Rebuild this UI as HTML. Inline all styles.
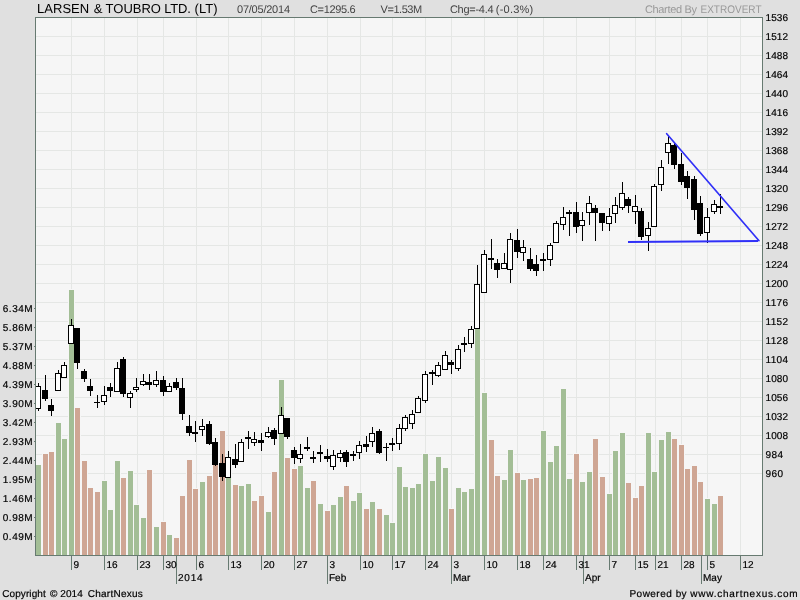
<!DOCTYPE html>
<html><head><meta charset="utf-8"><title>LARSEN &amp; TOUBRO LTD. (LT)</title>
<style>html,body{margin:0;padding:0;background:#e0e0e0;}body{width:800px;height:600px;overflow:hidden;}svg{display:block;will-change:transform;}text{font-family:"Liberation Sans",sans-serif;text-rendering:geometricPrecision;}</style>
</head><body>
<svg width="800" height="600" viewBox="0 0 800 600">
<rect x="0" y="0" width="800" height="600" fill="#e0e0e0"/>
<g shape-rendering="crispEdges">
<rect x="35" y="17" width="728" height="539" fill="#f6f6f6"/>
<rect x="36" y="36" width="726" height="1" fill="#e5e7e5"/>
<rect x="36" y="55" width="726" height="1" fill="#e5e7e5"/>
<rect x="36" y="74" width="726" height="1" fill="#e5e7e5"/>
<rect x="36" y="93" width="726" height="1" fill="#e5e7e5"/>
<rect x="36" y="112" width="726" height="1" fill="#e5e7e5"/>
<rect x="36" y="131" width="726" height="1" fill="#e5e7e5"/>
<rect x="36" y="150" width="726" height="1" fill="#e5e7e5"/>
<rect x="36" y="169" width="726" height="1" fill="#e5e7e5"/>
<rect x="36" y="188" width="726" height="1" fill="#e5e7e5"/>
<rect x="36" y="207" width="726" height="1" fill="#e5e7e5"/>
<rect x="36" y="226" width="726" height="1" fill="#e5e7e5"/>
<rect x="36" y="245" width="726" height="1" fill="#e5e7e5"/>
<rect x="36" y="264" width="726" height="1" fill="#e5e7e5"/>
<rect x="36" y="283" width="726" height="1" fill="#e5e7e5"/>
<rect x="36" y="302" width="726" height="1" fill="#e5e7e5"/>
<rect x="36" y="321" width="726" height="1" fill="#e5e7e5"/>
<rect x="36" y="340" width="726" height="1" fill="#e5e7e5"/>
<rect x="36" y="359" width="726" height="1" fill="#e5e7e5"/>
<rect x="36" y="378" width="726" height="1" fill="#e5e7e5"/>
<rect x="36" y="397" width="726" height="1" fill="#e5e7e5"/>
<rect x="36" y="416" width="726" height="1" fill="#e5e7e5"/>
<rect x="36" y="435" width="726" height="1" fill="#e5e7e5"/>
<rect x="36" y="454" width="726" height="1" fill="#e5e7e5"/>
<rect x="36" y="473" width="726" height="1" fill="#e5e7e5"/>
<rect x="71" y="18" width="1" height="537" fill="#e5e7e5"/>
<rect x="104" y="18" width="1" height="537" fill="#e5e7e5"/>
<rect x="137" y="18" width="1" height="537" fill="#e5e7e5"/>
<rect x="163" y="18" width="1" height="537" fill="#e5e7e5"/>
<rect x="196" y="18" width="1" height="537" fill="#e5e7e5"/>
<rect x="228" y="18" width="1" height="537" fill="#e5e7e5"/>
<rect x="261" y="18" width="1" height="537" fill="#e5e7e5"/>
<rect x="294" y="18" width="1" height="537" fill="#e5e7e5"/>
<rect x="327" y="18" width="1" height="537" fill="#e5e7e5"/>
<rect x="360" y="18" width="1" height="537" fill="#e5e7e5"/>
<rect x="392" y="18" width="1" height="537" fill="#e5e7e5"/>
<rect x="425" y="18" width="1" height="537" fill="#e5e7e5"/>
<rect x="451" y="18" width="1" height="537" fill="#e5e7e5"/>
<rect x="484" y="18" width="1" height="537" fill="#e5e7e5"/>
<rect x="517" y="18" width="1" height="537" fill="#e5e7e5"/>
<rect x="543" y="18" width="1" height="537" fill="#e5e7e5"/>
<rect x="576" y="18" width="1" height="537" fill="#e5e7e5"/>
<rect x="609" y="18" width="1" height="537" fill="#e5e7e5"/>
<rect x="635" y="18" width="1" height="537" fill="#e5e7e5"/>
<rect x="655" y="18" width="1" height="537" fill="#e5e7e5"/>
<rect x="681" y="18" width="1" height="537" fill="#e5e7e5"/>
<rect x="707" y="18" width="1" height="537" fill="#e5e7e5"/>
<rect x="740" y="18" width="1" height="537" fill="#e5e7e5"/>
<rect x="35" y="464" width="7" height="91" fill="#f6f6f6"/>
<rect x="36" y="465" width="5" height="90" fill="#a3be96"/>
<rect x="42" y="453" width="7" height="102" fill="#f6f6f6"/>
<rect x="43" y="454" width="5" height="101" fill="#cfa694"/>
<rect x="48" y="451" width="7" height="104" fill="#f6f6f6"/>
<rect x="49" y="452" width="5" height="103" fill="#cfa694"/>
<rect x="55" y="422" width="7" height="133" fill="#f6f6f6"/>
<rect x="56" y="423" width="5" height="132" fill="#a3be96"/>
<rect x="61" y="438" width="7" height="117" fill="#f6f6f6"/>
<rect x="62" y="439" width="5" height="116" fill="#a3be96"/>
<rect x="68" y="289" width="7" height="266" fill="#f6f6f6"/>
<rect x="69" y="290" width="5" height="265" fill="#a3be96"/>
<rect x="74" y="407" width="7" height="148" fill="#f6f6f6"/>
<rect x="75" y="408" width="5" height="147" fill="#cfa694"/>
<rect x="81" y="460" width="7" height="95" fill="#f6f6f6"/>
<rect x="82" y="461" width="5" height="94" fill="#cfa694"/>
<rect x="87" y="487" width="7" height="68" fill="#f6f6f6"/>
<rect x="88" y="488" width="5" height="67" fill="#cfa694"/>
<rect x="94" y="491" width="7" height="64" fill="#f6f6f6"/>
<rect x="95" y="492" width="5" height="63" fill="#cfa694"/>
<rect x="101" y="480" width="7" height="75" fill="#f6f6f6"/>
<rect x="102" y="481" width="5" height="74" fill="#a3be96"/>
<rect x="107" y="509" width="7" height="46" fill="#f6f6f6"/>
<rect x="108" y="510" width="5" height="45" fill="#a3be96"/>
<rect x="114" y="460" width="7" height="95" fill="#f6f6f6"/>
<rect x="115" y="461" width="5" height="94" fill="#a3be96"/>
<rect x="120" y="477" width="7" height="78" fill="#f6f6f6"/>
<rect x="121" y="478" width="5" height="77" fill="#cfa694"/>
<rect x="127" y="470" width="7" height="85" fill="#f6f6f6"/>
<rect x="128" y="471" width="5" height="84" fill="#a3be96"/>
<rect x="133" y="504" width="7" height="51" fill="#f6f6f6"/>
<rect x="134" y="505" width="5" height="50" fill="#a3be96"/>
<rect x="140" y="517" width="7" height="38" fill="#f6f6f6"/>
<rect x="141" y="518" width="5" height="37" fill="#a3be96"/>
<rect x="146" y="469" width="7" height="86" fill="#f6f6f6"/>
<rect x="147" y="470" width="5" height="85" fill="#cfa694"/>
<rect x="153" y="526" width="7" height="29" fill="#f6f6f6"/>
<rect x="154" y="527" width="5" height="28" fill="#a3be96"/>
<rect x="160" y="521" width="7" height="34" fill="#f6f6f6"/>
<rect x="161" y="522" width="5" height="33" fill="#cfa694"/>
<rect x="166" y="534" width="7" height="21" fill="#f6f6f6"/>
<rect x="167" y="535" width="5" height="20" fill="#a3be96"/>
<rect x="173" y="537" width="7" height="18" fill="#f6f6f6"/>
<rect x="174" y="538" width="5" height="17" fill="#cfa694"/>
<rect x="179" y="495" width="7" height="60" fill="#f6f6f6"/>
<rect x="180" y="496" width="5" height="59" fill="#cfa694"/>
<rect x="186" y="459" width="7" height="96" fill="#f6f6f6"/>
<rect x="187" y="460" width="5" height="95" fill="#cfa694"/>
<rect x="192" y="488" width="7" height="67" fill="#f6f6f6"/>
<rect x="193" y="489" width="5" height="66" fill="#cfa694"/>
<rect x="199" y="481" width="7" height="74" fill="#f6f6f6"/>
<rect x="200" y="482" width="5" height="73" fill="#a3be96"/>
<rect x="206" y="475" width="7" height="80" fill="#f6f6f6"/>
<rect x="207" y="476" width="5" height="79" fill="#cfa694"/>
<rect x="212" y="449" width="7" height="106" fill="#f6f6f6"/>
<rect x="213" y="450" width="5" height="105" fill="#cfa694"/>
<rect x="219" y="430" width="7" height="125" fill="#f6f6f6"/>
<rect x="220" y="431" width="5" height="124" fill="#cfa694"/>
<rect x="225" y="469" width="7" height="86" fill="#f6f6f6"/>
<rect x="226" y="470" width="5" height="85" fill="#a3be96"/>
<rect x="232" y="484" width="7" height="71" fill="#f6f6f6"/>
<rect x="233" y="485" width="5" height="70" fill="#cfa694"/>
<rect x="238" y="485" width="7" height="70" fill="#f6f6f6"/>
<rect x="239" y="486" width="5" height="69" fill="#a3be96"/>
<rect x="245" y="483" width="7" height="72" fill="#f6f6f6"/>
<rect x="246" y="484" width="5" height="71" fill="#a3be96"/>
<rect x="251" y="500" width="7" height="55" fill="#f6f6f6"/>
<rect x="252" y="501" width="5" height="54" fill="#cfa694"/>
<rect x="258" y="495" width="7" height="60" fill="#f6f6f6"/>
<rect x="259" y="496" width="5" height="59" fill="#cfa694"/>
<rect x="265" y="511" width="7" height="44" fill="#f6f6f6"/>
<rect x="266" y="512" width="5" height="43" fill="#a3be96"/>
<rect x="271" y="471" width="7" height="84" fill="#f6f6f6"/>
<rect x="272" y="472" width="5" height="83" fill="#cfa694"/>
<rect x="278" y="379" width="7" height="176" fill="#f6f6f6"/>
<rect x="279" y="380" width="5" height="175" fill="#a3be96"/>
<rect x="284" y="457" width="7" height="98" fill="#f6f6f6"/>
<rect x="285" y="458" width="5" height="97" fill="#cfa694"/>
<rect x="291" y="468" width="7" height="87" fill="#f6f6f6"/>
<rect x="292" y="469" width="5" height="86" fill="#cfa694"/>
<rect x="297" y="465" width="7" height="90" fill="#f6f6f6"/>
<rect x="298" y="466" width="5" height="89" fill="#a3be96"/>
<rect x="304" y="487" width="7" height="68" fill="#f6f6f6"/>
<rect x="305" y="488" width="5" height="67" fill="#a3be96"/>
<rect x="310" y="480" width="7" height="75" fill="#f6f6f6"/>
<rect x="311" y="481" width="5" height="74" fill="#cfa694"/>
<rect x="317" y="503" width="7" height="52" fill="#f6f6f6"/>
<rect x="318" y="504" width="5" height="51" fill="#a3be96"/>
<rect x="324" y="510" width="7" height="45" fill="#f6f6f6"/>
<rect x="325" y="511" width="5" height="44" fill="#cfa694"/>
<rect x="330" y="504" width="7" height="51" fill="#f6f6f6"/>
<rect x="331" y="505" width="5" height="50" fill="#a3be96"/>
<rect x="337" y="496" width="7" height="59" fill="#f6f6f6"/>
<rect x="338" y="497" width="5" height="58" fill="#a3be96"/>
<rect x="343" y="485" width="7" height="70" fill="#f6f6f6"/>
<rect x="344" y="486" width="5" height="69" fill="#cfa694"/>
<rect x="350" y="500" width="7" height="55" fill="#f6f6f6"/>
<rect x="351" y="501" width="5" height="54" fill="#a3be96"/>
<rect x="356" y="492" width="7" height="63" fill="#f6f6f6"/>
<rect x="357" y="493" width="5" height="62" fill="#a3be96"/>
<rect x="363" y="508" width="7" height="47" fill="#f6f6f6"/>
<rect x="364" y="509" width="5" height="46" fill="#cfa694"/>
<rect x="369" y="501" width="7" height="54" fill="#f6f6f6"/>
<rect x="370" y="502" width="5" height="53" fill="#a3be96"/>
<rect x="376" y="508" width="7" height="47" fill="#f6f6f6"/>
<rect x="377" y="509" width="5" height="46" fill="#cfa694"/>
<rect x="383" y="514" width="7" height="41" fill="#f6f6f6"/>
<rect x="384" y="515" width="5" height="40" fill="#a3be96"/>
<rect x="389" y="522" width="7" height="33" fill="#f6f6f6"/>
<rect x="390" y="523" width="5" height="32" fill="#a3be96"/>
<rect x="396" y="466" width="7" height="89" fill="#f6f6f6"/>
<rect x="397" y="467" width="5" height="88" fill="#a3be96"/>
<rect x="402" y="486" width="7" height="69" fill="#f6f6f6"/>
<rect x="403" y="487" width="5" height="68" fill="#a3be96"/>
<rect x="409" y="487" width="7" height="68" fill="#f6f6f6"/>
<rect x="410" y="488" width="5" height="67" fill="#a3be96"/>
<rect x="415" y="483" width="7" height="72" fill="#f6f6f6"/>
<rect x="416" y="484" width="5" height="71" fill="#a3be96"/>
<rect x="422" y="453" width="7" height="102" fill="#f6f6f6"/>
<rect x="423" y="454" width="5" height="101" fill="#a3be96"/>
<rect x="429" y="480" width="7" height="75" fill="#f6f6f6"/>
<rect x="430" y="481" width="5" height="74" fill="#a3be96"/>
<rect x="435" y="456" width="7" height="99" fill="#f6f6f6"/>
<rect x="436" y="457" width="5" height="98" fill="#a3be96"/>
<rect x="442" y="467" width="7" height="88" fill="#f6f6f6"/>
<rect x="443" y="468" width="5" height="87" fill="#a3be96"/>
<rect x="448" y="508" width="7" height="47" fill="#f6f6f6"/>
<rect x="449" y="509" width="5" height="46" fill="#cfa694"/>
<rect x="455" y="487" width="7" height="68" fill="#f6f6f6"/>
<rect x="456" y="488" width="5" height="67" fill="#a3be96"/>
<rect x="461" y="491" width="7" height="64" fill="#f6f6f6"/>
<rect x="462" y="492" width="5" height="63" fill="#a3be96"/>
<rect x="468" y="488" width="7" height="67" fill="#f6f6f6"/>
<rect x="469" y="489" width="5" height="66" fill="#a3be96"/>
<rect x="474" y="328" width="7" height="227" fill="#f6f6f6"/>
<rect x="475" y="329" width="5" height="226" fill="#a3be96"/>
<rect x="481" y="392" width="7" height="163" fill="#f6f6f6"/>
<rect x="482" y="393" width="5" height="162" fill="#a3be96"/>
<rect x="488" y="439" width="7" height="116" fill="#f6f6f6"/>
<rect x="489" y="440" width="5" height="115" fill="#cfa694"/>
<rect x="494" y="475" width="7" height="80" fill="#f6f6f6"/>
<rect x="495" y="476" width="5" height="79" fill="#cfa694"/>
<rect x="501" y="479" width="7" height="76" fill="#f6f6f6"/>
<rect x="502" y="480" width="5" height="75" fill="#a3be96"/>
<rect x="507" y="449" width="7" height="106" fill="#f6f6f6"/>
<rect x="508" y="450" width="5" height="105" fill="#a3be96"/>
<rect x="514" y="472" width="7" height="83" fill="#f6f6f6"/>
<rect x="515" y="473" width="5" height="82" fill="#cfa694"/>
<rect x="520" y="479" width="7" height="76" fill="#f6f6f6"/>
<rect x="521" y="480" width="5" height="75" fill="#a3be96"/>
<rect x="527" y="478" width="7" height="77" fill="#f6f6f6"/>
<rect x="528" y="479" width="5" height="76" fill="#cfa694"/>
<rect x="533" y="477" width="7" height="78" fill="#f6f6f6"/>
<rect x="534" y="478" width="5" height="77" fill="#cfa694"/>
<rect x="540" y="430" width="7" height="125" fill="#f6f6f6"/>
<rect x="541" y="431" width="5" height="124" fill="#a3be96"/>
<rect x="547" y="461" width="7" height="94" fill="#f6f6f6"/>
<rect x="548" y="462" width="5" height="93" fill="#a3be96"/>
<rect x="553" y="445" width="7" height="110" fill="#f6f6f6"/>
<rect x="554" y="446" width="5" height="109" fill="#a3be96"/>
<rect x="560" y="388" width="7" height="167" fill="#f6f6f6"/>
<rect x="561" y="389" width="5" height="166" fill="#a3be96"/>
<rect x="566" y="478" width="7" height="77" fill="#f6f6f6"/>
<rect x="567" y="479" width="5" height="76" fill="#a3be96"/>
<rect x="573" y="453" width="7" height="102" fill="#f6f6f6"/>
<rect x="574" y="454" width="5" height="101" fill="#cfa694"/>
<rect x="579" y="481" width="7" height="74" fill="#f6f6f6"/>
<rect x="580" y="482" width="5" height="73" fill="#a3be96"/>
<rect x="586" y="471" width="7" height="84" fill="#f6f6f6"/>
<rect x="587" y="472" width="5" height="83" fill="#a3be96"/>
<rect x="592" y="438" width="7" height="117" fill="#f6f6f6"/>
<rect x="593" y="439" width="5" height="116" fill="#cfa694"/>
<rect x="599" y="476" width="7" height="79" fill="#f6f6f6"/>
<rect x="600" y="477" width="5" height="78" fill="#cfa694"/>
<rect x="606" y="493" width="7" height="62" fill="#f6f6f6"/>
<rect x="607" y="494" width="5" height="61" fill="#a3be96"/>
<rect x="612" y="450" width="7" height="105" fill="#f6f6f6"/>
<rect x="613" y="451" width="5" height="104" fill="#a3be96"/>
<rect x="619" y="432" width="7" height="123" fill="#f6f6f6"/>
<rect x="620" y="433" width="5" height="122" fill="#a3be96"/>
<rect x="625" y="482" width="7" height="73" fill="#f6f6f6"/>
<rect x="626" y="483" width="5" height="72" fill="#cfa694"/>
<rect x="632" y="497" width="7" height="58" fill="#f6f6f6"/>
<rect x="633" y="498" width="5" height="57" fill="#cfa694"/>
<rect x="638" y="485" width="7" height="70" fill="#f6f6f6"/>
<rect x="639" y="486" width="5" height="69" fill="#cfa694"/>
<rect x="645" y="432" width="7" height="123" fill="#f6f6f6"/>
<rect x="646" y="433" width="5" height="122" fill="#a3be96"/>
<rect x="651" y="471" width="7" height="84" fill="#f6f6f6"/>
<rect x="652" y="472" width="5" height="83" fill="#a3be96"/>
<rect x="658" y="439" width="7" height="116" fill="#f6f6f6"/>
<rect x="659" y="440" width="5" height="115" fill="#a3be96"/>
<rect x="665" y="431" width="7" height="124" fill="#f6f6f6"/>
<rect x="666" y="432" width="5" height="123" fill="#a3be96"/>
<rect x="671" y="438" width="7" height="117" fill="#f6f6f6"/>
<rect x="672" y="439" width="5" height="116" fill="#cfa694"/>
<rect x="678" y="444" width="7" height="111" fill="#f6f6f6"/>
<rect x="679" y="445" width="5" height="110" fill="#cfa694"/>
<rect x="684" y="468" width="7" height="87" fill="#f6f6f6"/>
<rect x="685" y="469" width="5" height="86" fill="#cfa694"/>
<rect x="691" y="465" width="7" height="90" fill="#f6f6f6"/>
<rect x="692" y="466" width="5" height="89" fill="#cfa694"/>
<rect x="697" y="481" width="7" height="74" fill="#f6f6f6"/>
<rect x="698" y="482" width="5" height="73" fill="#cfa694"/>
<rect x="704" y="498" width="7" height="57" fill="#f6f6f6"/>
<rect x="705" y="499" width="5" height="56" fill="#a3be96"/>
<rect x="711" y="503" width="7" height="52" fill="#f6f6f6"/>
<rect x="712" y="504" width="5" height="51" fill="#a3be96"/>
<rect x="717" y="495" width="7" height="60" fill="#f6f6f6"/>
<rect x="718" y="496" width="5" height="59" fill="#cfa694"/>
<rect x="71" y="556" width="1" height="14" fill="#677a71"/>
<rect x="104" y="556" width="1" height="14" fill="#677a71"/>
<rect x="137" y="556" width="1" height="14" fill="#677a71"/>
<rect x="163" y="556" width="1" height="14" fill="#677a71"/>
<rect x="196" y="556" width="1" height="14" fill="#677a71"/>
<rect x="228" y="556" width="1" height="14" fill="#677a71"/>
<rect x="261" y="556" width="1" height="14" fill="#677a71"/>
<rect x="294" y="556" width="1" height="14" fill="#677a71"/>
<rect x="327" y="556" width="1" height="14" fill="#677a71"/>
<rect x="360" y="556" width="1" height="14" fill="#677a71"/>
<rect x="392" y="556" width="1" height="14" fill="#677a71"/>
<rect x="425" y="556" width="1" height="14" fill="#677a71"/>
<rect x="451" y="556" width="1" height="14" fill="#677a71"/>
<rect x="484" y="556" width="1" height="14" fill="#677a71"/>
<rect x="517" y="556" width="1" height="14" fill="#677a71"/>
<rect x="543" y="556" width="1" height="14" fill="#677a71"/>
<rect x="576" y="556" width="1" height="14" fill="#677a71"/>
<rect x="609" y="556" width="1" height="14" fill="#677a71"/>
<rect x="635" y="556" width="1" height="14" fill="#677a71"/>
<rect x="655" y="556" width="1" height="14" fill="#677a71"/>
<rect x="681" y="556" width="1" height="14" fill="#677a71"/>
<rect x="707" y="556" width="1" height="14" fill="#677a71"/>
<rect x="740" y="556" width="1" height="14" fill="#677a71"/>
<rect x="176" y="556" width="1" height="28" fill="#677a71"/>
<rect x="327" y="556" width="1" height="28" fill="#677a71"/>
<rect x="451" y="556" width="1" height="28" fill="#677a71"/>
<rect x="583" y="556" width="1" height="28" fill="#677a71"/>
<rect x="701" y="556" width="1" height="28" fill="#677a71"/>
<rect x="34" y="536" width="1" height="1" fill="#677a71"/>
<rect x="34" y="517" width="1" height="1" fill="#677a71"/>
<rect x="34" y="498" width="1" height="1" fill="#677a71"/>
<rect x="34" y="479" width="1" height="1" fill="#677a71"/>
<rect x="34" y="460" width="1" height="1" fill="#677a71"/>
<rect x="34" y="441" width="1" height="1" fill="#677a71"/>
<rect x="34" y="422" width="1" height="1" fill="#677a71"/>
<rect x="34" y="403" width="1" height="1" fill="#677a71"/>
<rect x="34" y="384" width="1" height="1" fill="#677a71"/>
<rect x="34" y="365" width="1" height="1" fill="#677a71"/>
<rect x="34" y="346" width="1" height="1" fill="#677a71"/>
<rect x="34" y="327" width="1" height="1" fill="#677a71"/>
<rect x="34" y="308" width="1" height="1" fill="#677a71"/>
<rect x="38" y="383" width="1" height="28" fill="#000"/>
<rect x="35" y="386" width="6" height="23" fill="#000"/>
<rect x="36" y="387" width="4" height="21" fill="#fff"/>
<rect x="45" y="375" width="1" height="26" fill="#000"/>
<rect x="42" y="390" width="6" height="9" fill="#000"/>
<rect x="51" y="399" width="1" height="17" fill="#000"/>
<rect x="48" y="405" width="6" height="6" fill="#000"/>
<rect x="58" y="370" width="1" height="21" fill="#000"/>
<rect x="55" y="373" width="6" height="18" fill="#000"/>
<rect x="56" y="374" width="4" height="16" fill="#fff"/>
<rect x="64" y="362" width="1" height="16" fill="#000"/>
<rect x="61" y="365" width="6" height="13" fill="#000"/>
<rect x="62" y="366" width="4" height="11" fill="#fff"/>
<rect x="71" y="319" width="1" height="25" fill="#000"/>
<rect x="68" y="325" width="6" height="19" fill="#000"/>
<rect x="69" y="326" width="4" height="17" fill="#fff"/>
<rect x="77" y="328" width="1" height="41" fill="#000"/>
<rect x="74" y="328" width="6" height="35" fill="#000"/>
<rect x="84" y="369" width="1" height="13" fill="#000"/>
<rect x="81" y="371" width="6" height="8" fill="#000"/>
<rect x="90" y="379" width="1" height="17" fill="#000"/>
<rect x="87" y="386" width="6" height="5" fill="#000"/>
<rect x="97" y="395" width="1" height="13" fill="#000"/>
<rect x="94" y="402" width="6" height="1" fill="#000"/>
<rect x="104" y="386" width="1" height="19" fill="#000"/>
<rect x="101" y="395" width="6" height="7" fill="#000"/>
<rect x="102" y="396" width="4" height="5" fill="#fff"/>
<rect x="110" y="383" width="1" height="14" fill="#000"/>
<rect x="107" y="387" width="6" height="4" fill="#000"/>
<rect x="117" y="362" width="1" height="30" fill="#000"/>
<rect x="114" y="368" width="6" height="24" fill="#000"/>
<rect x="115" y="369" width="4" height="22" fill="#fff"/>
<rect x="123" y="357" width="1" height="40" fill="#000"/>
<rect x="120" y="359" width="6" height="35" fill="#000"/>
<rect x="130" y="391" width="1" height="17" fill="#000"/>
<rect x="127" y="393" width="6" height="5" fill="#000"/>
<rect x="128" y="394" width="4" height="3" fill="#fff"/>
<rect x="136" y="378" width="1" height="14" fill="#000"/>
<rect x="133" y="387" width="6" height="3" fill="#000"/>
<rect x="134" y="388" width="4" height="1" fill="#fff"/>
<rect x="143" y="374" width="1" height="12" fill="#000"/>
<rect x="140" y="381" width="6" height="4" fill="#000"/>
<rect x="141" y="382" width="4" height="2" fill="#fff"/>
<rect x="149" y="374" width="1" height="16" fill="#000"/>
<rect x="146" y="382" width="6" height="3" fill="#000"/>
<rect x="156" y="371" width="1" height="16" fill="#000"/>
<rect x="153" y="380" width="6" height="5" fill="#000"/>
<rect x="154" y="381" width="4" height="3" fill="#fff"/>
<rect x="163" y="376" width="1" height="20" fill="#000"/>
<rect x="160" y="380" width="6" height="12" fill="#000"/>
<rect x="169" y="383" width="1" height="9" fill="#000"/>
<rect x="166" y="386" width="6" height="6" fill="#000"/>
<rect x="167" y="387" width="4" height="4" fill="#fff"/>
<rect x="176" y="378" width="1" height="12" fill="#000"/>
<rect x="173" y="382" width="6" height="6" fill="#000"/>
<rect x="182" y="378" width="1" height="42" fill="#000"/>
<rect x="179" y="388" width="6" height="26" fill="#000"/>
<rect x="189" y="415" width="1" height="21" fill="#000"/>
<rect x="186" y="426" width="6" height="7" fill="#000"/>
<rect x="195" y="421" width="1" height="21" fill="#000"/>
<rect x="192" y="432" width="6" height="2" fill="#000"/>
<rect x="202" y="419" width="1" height="17" fill="#000"/>
<rect x="199" y="426" width="6" height="4" fill="#000"/>
<rect x="200" y="427" width="4" height="2" fill="#fff"/>
<rect x="209" y="421" width="1" height="24" fill="#000"/>
<rect x="206" y="424" width="6" height="20" fill="#000"/>
<rect x="215" y="438" width="1" height="28" fill="#000"/>
<rect x="212" y="442" width="6" height="23" fill="#000"/>
<rect x="222" y="454" width="1" height="27" fill="#000"/>
<rect x="219" y="463" width="6" height="14" fill="#000"/>
<rect x="228" y="451" width="1" height="27" fill="#000"/>
<rect x="225" y="457" width="6" height="21" fill="#000"/>
<rect x="226" y="458" width="4" height="19" fill="#fff"/>
<rect x="235" y="444" width="1" height="24" fill="#000"/>
<rect x="232" y="459" width="6" height="6" fill="#000"/>
<rect x="241" y="439" width="1" height="23" fill="#000"/>
<rect x="238" y="442" width="6" height="20" fill="#000"/>
<rect x="239" y="443" width="4" height="18" fill="#fff"/>
<rect x="248" y="431" width="1" height="18" fill="#000"/>
<rect x="245" y="437" width="6" height="2" fill="#000"/>
<rect x="254" y="432" width="1" height="14" fill="#000"/>
<rect x="251" y="439" width="6" height="4" fill="#000"/>
<rect x="252" y="440" width="4" height="2" fill="#fff"/>
<rect x="261" y="433" width="1" height="18" fill="#000"/>
<rect x="258" y="440" width="6" height="3" fill="#000"/>
<rect x="268" y="427" width="1" height="11" fill="#000"/>
<rect x="265" y="432" width="6" height="5" fill="#000"/>
<rect x="266" y="433" width="4" height="3" fill="#fff"/>
<rect x="274" y="428" width="1" height="17" fill="#000"/>
<rect x="271" y="430" width="6" height="9" fill="#000"/>
<rect x="281" y="407" width="1" height="27" fill="#000"/>
<rect x="278" y="415" width="6" height="19" fill="#000"/>
<rect x="279" y="416" width="4" height="17" fill="#fff"/>
<rect x="287" y="418" width="1" height="21" fill="#000"/>
<rect x="284" y="418" width="6" height="19" fill="#000"/>
<rect x="294" y="447" width="1" height="17" fill="#000"/>
<rect x="291" y="450" width="6" height="8" fill="#000"/>
<rect x="300" y="444" width="1" height="19" fill="#000"/>
<rect x="297" y="454" width="6" height="5" fill="#000"/>
<rect x="298" y="455" width="4" height="3" fill="#fff"/>
<rect x="307" y="437" width="1" height="14" fill="#000"/>
<rect x="304" y="447" width="6" height="2" fill="#000"/>
<rect x="313" y="451" width="1" height="12" fill="#000"/>
<rect x="310" y="457" width="6" height="2" fill="#000"/>
<rect x="320" y="445" width="1" height="17" fill="#000"/>
<rect x="317" y="452" width="6" height="2" fill="#000"/>
<rect x="327" y="449" width="1" height="13" fill="#000"/>
<rect x="324" y="456" width="6" height="3" fill="#000"/>
<rect x="333" y="450" width="1" height="20" fill="#000"/>
<rect x="330" y="455" width="6" height="12" fill="#000"/>
<rect x="331" y="456" width="4" height="10" fill="#fff"/>
<rect x="340" y="450" width="1" height="12" fill="#000"/>
<rect x="337" y="453" width="6" height="5" fill="#000"/>
<rect x="338" y="454" width="4" height="3" fill="#fff"/>
<rect x="346" y="450" width="1" height="17" fill="#000"/>
<rect x="343" y="452" width="6" height="10" fill="#000"/>
<rect x="353" y="451" width="1" height="10" fill="#000"/>
<rect x="350" y="454" width="6" height="2" fill="#000"/>
<rect x="359" y="441" width="1" height="18" fill="#000"/>
<rect x="356" y="445" width="6" height="8" fill="#000"/>
<rect x="357" y="446" width="4" height="6" fill="#fff"/>
<rect x="366" y="436" width="1" height="16" fill="#000"/>
<rect x="363" y="444" width="6" height="3" fill="#000"/>
<rect x="372" y="427" width="1" height="20" fill="#000"/>
<rect x="369" y="433" width="6" height="9" fill="#000"/>
<rect x="370" y="434" width="4" height="7" fill="#fff"/>
<rect x="379" y="429" width="1" height="25" fill="#000"/>
<rect x="376" y="431" width="6" height="22" fill="#000"/>
<rect x="386" y="443" width="1" height="18" fill="#000"/>
<rect x="383" y="447" width="6" height="1" fill="#000"/>
<rect x="392" y="438" width="1" height="13" fill="#000"/>
<rect x="389" y="443" width="6" height="2" fill="#000"/>
<rect x="399" y="424" width="1" height="26" fill="#000"/>
<rect x="396" y="428" width="6" height="16" fill="#000"/>
<rect x="397" y="429" width="4" height="14" fill="#fff"/>
<rect x="405" y="415" width="1" height="16" fill="#000"/>
<rect x="402" y="417" width="6" height="12" fill="#000"/>
<rect x="403" y="418" width="4" height="10" fill="#fff"/>
<rect x="412" y="410" width="1" height="19" fill="#000"/>
<rect x="409" y="414" width="6" height="10" fill="#000"/>
<rect x="410" y="415" width="4" height="8" fill="#fff"/>
<rect x="418" y="396" width="1" height="17" fill="#000"/>
<rect x="415" y="398" width="6" height="15" fill="#000"/>
<rect x="416" y="399" width="4" height="13" fill="#fff"/>
<rect x="425" y="371" width="1" height="32" fill="#000"/>
<rect x="422" y="374" width="6" height="27" fill="#000"/>
<rect x="423" y="375" width="4" height="25" fill="#fff"/>
<rect x="432" y="370" width="1" height="15" fill="#000"/>
<rect x="429" y="372" width="6" height="2" fill="#000"/>
<rect x="438" y="362" width="1" height="15" fill="#000"/>
<rect x="435" y="365" width="6" height="11" fill="#000"/>
<rect x="436" y="366" width="4" height="9" fill="#fff"/>
<rect x="445" y="351" width="1" height="19" fill="#000"/>
<rect x="442" y="355" width="6" height="15" fill="#000"/>
<rect x="443" y="356" width="4" height="13" fill="#fff"/>
<rect x="451" y="360" width="1" height="14" fill="#000"/>
<rect x="448" y="362" width="6" height="3" fill="#000"/>
<rect x="458" y="345" width="1" height="26" fill="#000"/>
<rect x="455" y="349" width="6" height="20" fill="#000"/>
<rect x="456" y="350" width="4" height="18" fill="#fff"/>
<rect x="464" y="337" width="1" height="15" fill="#000"/>
<rect x="461" y="343" width="6" height="2" fill="#000"/>
<rect x="471" y="326" width="1" height="22" fill="#000"/>
<rect x="468" y="329" width="6" height="15" fill="#000"/>
<rect x="469" y="330" width="4" height="13" fill="#fff"/>
<rect x="477" y="265" width="1" height="64" fill="#000"/>
<rect x="474" y="284" width="6" height="45" fill="#000"/>
<rect x="475" y="285" width="4" height="43" fill="#fff"/>
<rect x="484" y="250" width="1" height="43" fill="#000"/>
<rect x="481" y="254" width="6" height="39" fill="#000"/>
<rect x="482" y="255" width="4" height="37" fill="#fff"/>
<rect x="491" y="239" width="1" height="30" fill="#000"/>
<rect x="488" y="258" width="6" height="2" fill="#000"/>
<rect x="497" y="259" width="1" height="19" fill="#000"/>
<rect x="494" y="263" width="6" height="7" fill="#000"/>
<rect x="504" y="253" width="1" height="16" fill="#000"/>
<rect x="501" y="263" width="6" height="6" fill="#000"/>
<rect x="502" y="264" width="4" height="4" fill="#fff"/>
<rect x="510" y="233" width="1" height="50" fill="#000"/>
<rect x="507" y="239" width="6" height="31" fill="#000"/>
<rect x="508" y="240" width="4" height="29" fill="#fff"/>
<rect x="517" y="229" width="1" height="29" fill="#000"/>
<rect x="514" y="240" width="6" height="12" fill="#000"/>
<rect x="523" y="240" width="1" height="21" fill="#000"/>
<rect x="520" y="247" width="6" height="6" fill="#000"/>
<rect x="521" y="248" width="4" height="4" fill="#fff"/>
<rect x="530" y="248" width="1" height="23" fill="#000"/>
<rect x="527" y="259" width="6" height="10" fill="#000"/>
<rect x="536" y="255" width="1" height="21" fill="#000"/>
<rect x="533" y="264" width="6" height="7" fill="#000"/>
<rect x="543" y="253" width="1" height="18" fill="#000"/>
<rect x="540" y="259" width="6" height="2" fill="#000"/>
<rect x="550" y="243" width="1" height="23" fill="#000"/>
<rect x="547" y="245" width="6" height="15" fill="#000"/>
<rect x="548" y="246" width="4" height="13" fill="#fff"/>
<rect x="556" y="221" width="1" height="22" fill="#000"/>
<rect x="553" y="223" width="6" height="20" fill="#000"/>
<rect x="554" y="224" width="4" height="18" fill="#fff"/>
<rect x="563" y="207" width="1" height="23" fill="#000"/>
<rect x="560" y="217" width="6" height="8" fill="#000"/>
<rect x="561" y="218" width="4" height="6" fill="#fff"/>
<rect x="569" y="210" width="1" height="26" fill="#000"/>
<rect x="566" y="212" width="6" height="2" fill="#000"/>
<rect x="576" y="202" width="1" height="31" fill="#000"/>
<rect x="573" y="212" width="6" height="15" fill="#000"/>
<rect x="582" y="212" width="1" height="29" fill="#000"/>
<rect x="579" y="220" width="6" height="6" fill="#000"/>
<rect x="580" y="221" width="4" height="4" fill="#fff"/>
<rect x="589" y="196" width="1" height="29" fill="#000"/>
<rect x="586" y="203" width="6" height="10" fill="#000"/>
<rect x="587" y="204" width="4" height="8" fill="#fff"/>
<rect x="595" y="205" width="1" height="36" fill="#000"/>
<rect x="592" y="208" width="6" height="5" fill="#000"/>
<rect x="602" y="213" width="1" height="18" fill="#000"/>
<rect x="599" y="213" width="6" height="10" fill="#000"/>
<rect x="609" y="208" width="1" height="23" fill="#000"/>
<rect x="606" y="216" width="6" height="8" fill="#000"/>
<rect x="607" y="217" width="4" height="6" fill="#fff"/>
<rect x="615" y="197" width="1" height="26" fill="#000"/>
<rect x="612" y="205" width="6" height="9" fill="#000"/>
<rect x="613" y="206" width="4" height="7" fill="#fff"/>
<rect x="622" y="182" width="1" height="28" fill="#000"/>
<rect x="619" y="193" width="6" height="15" fill="#000"/>
<rect x="620" y="194" width="4" height="13" fill="#fff"/>
<rect x="628" y="197" width="1" height="16" fill="#000"/>
<rect x="625" y="199" width="6" height="7" fill="#000"/>
<rect x="635" y="195" width="1" height="29" fill="#000"/>
<rect x="632" y="206" width="6" height="6" fill="#000"/>
<rect x="633" y="207" width="4" height="4" fill="#fff"/>
<rect x="641" y="208" width="1" height="32" fill="#000"/>
<rect x="638" y="211" width="6" height="26" fill="#000"/>
<rect x="648" y="222" width="1" height="29" fill="#000"/>
<rect x="645" y="228" width="6" height="8" fill="#000"/>
<rect x="646" y="229" width="4" height="6" fill="#fff"/>
<rect x="654" y="184" width="1" height="43" fill="#000"/>
<rect x="651" y="186" width="6" height="41" fill="#000"/>
<rect x="652" y="187" width="4" height="39" fill="#fff"/>
<rect x="661" y="160" width="1" height="31" fill="#000"/>
<rect x="658" y="167" width="6" height="18" fill="#000"/>
<rect x="659" y="168" width="4" height="16" fill="#fff"/>
<rect x="668" y="136" width="1" height="28" fill="#000"/>
<rect x="665" y="143" width="6" height="10" fill="#000"/>
<rect x="666" y="144" width="4" height="8" fill="#fff"/>
<rect x="674" y="143" width="1" height="26" fill="#000"/>
<rect x="671" y="145" width="6" height="20" fill="#000"/>
<rect x="681" y="153" width="1" height="32" fill="#000"/>
<rect x="678" y="164" width="6" height="18" fill="#000"/>
<rect x="687" y="171" width="1" height="28" fill="#000"/>
<rect x="684" y="176" width="6" height="12" fill="#000"/>
<rect x="694" y="176" width="1" height="44" fill="#000"/>
<rect x="691" y="179" width="6" height="31" fill="#000"/>
<rect x="700" y="196" width="1" height="40" fill="#000"/>
<rect x="697" y="203" width="6" height="31" fill="#000"/>
<rect x="707" y="208" width="1" height="35" fill="#000"/>
<rect x="704" y="217" width="6" height="16" fill="#000"/>
<rect x="705" y="218" width="4" height="14" fill="#fff"/>
<rect x="714" y="200" width="1" height="14" fill="#000"/>
<rect x="711" y="204" width="6" height="8" fill="#000"/>
<rect x="712" y="205" width="4" height="6" fill="#fff"/>
<rect x="720" y="194" width="1" height="20" fill="#000"/>
<rect x="717" y="206" width="6" height="2" fill="#000"/>
<rect x="35" y="17" width="728" height="1" fill="#677a71"/>
<rect x="35" y="555" width="728" height="1" fill="#677a71"/>
<rect x="35" y="17" width="1" height="539" fill="#677a71"/>
<rect x="762" y="17" width="1" height="539" fill="#677a71"/>
</g>
<line x1="666.7" y1="133.7" x2="759" y2="240.7" stroke="#3030f8" stroke-width="1.7" stroke-linecap="round"/>
<line x1="628" y1="242" x2="758" y2="241" stroke="#3030f8" stroke-width="1.9"/>
<text y="13" font-size="13" fill="#000" xml:space="preserve"><tspan x="37.1" textLength="52.03" lengthAdjust="spacing">LARSEN</tspan> <tspan x="93.8">&amp;</tspan> <tspan x="105.6">TOUBRO</tspan> <tspan x="164.2" textLength="26.6" lengthAdjust="spacing">LTD.</tspan> <tspan x="194.6" textLength="23.1" lengthAdjust="spacing">(LT)</tspan></text>
<text x="237" y="13" font-size="11" fill="#444" textLength="53" lengthAdjust="spacing">07/05/2014</text>
<text x="310" y="13" font-size="11" fill="#444" textLength="45.5" lengthAdjust="spacing">C=1295.6</text>
<text x="380.5" y="13" font-size="11" fill="#444" textLength="41.7" lengthAdjust="spacing">V=1.53M</text>
<text y="13" font-size="11" fill="#444" xml:space="preserve"><tspan x="449.9" textLength="43.7" lengthAdjust="spacing">Chg=-4.4</tspan> <tspan x="495.75" textLength="37.5" lengthAdjust="spacing">(-0.3%)</tspan></text>
<text y="13" font-size="11" fill="#999" xml:space="preserve"><tspan x="644.9" textLength="37.2" lengthAdjust="spacing">Charted</tspan> <tspan x="684.6" textLength="12.4" lengthAdjust="spacing">By</tspan> <tspan x="700.5" textLength="61.0" lengthAdjust="spacingAndGlyphs">EXTROVERT</tspan></text>
<text x="765.5" y="21" font-size="10" fill="#000" textLength="22.5" lengthAdjust="spacing" stroke="#000" stroke-width="0.2">1536</text>
<text x="765.5" y="40" font-size="10" fill="#000" textLength="22.5" lengthAdjust="spacing" stroke="#000" stroke-width="0.2">1512</text>
<text x="765.5" y="59" font-size="10" fill="#000" textLength="22.5" lengthAdjust="spacing" stroke="#000" stroke-width="0.2">1488</text>
<text x="765.5" y="78" font-size="10" fill="#000" textLength="22.5" lengthAdjust="spacing" stroke="#000" stroke-width="0.2">1464</text>
<text x="765.5" y="97" font-size="10" fill="#000" textLength="22.5" lengthAdjust="spacing" stroke="#000" stroke-width="0.2">1440</text>
<text x="765.5" y="116" font-size="10" fill="#000" textLength="22.5" lengthAdjust="spacing" stroke="#000" stroke-width="0.2">1416</text>
<text x="765.5" y="135" font-size="10" fill="#000" textLength="22.5" lengthAdjust="spacing" stroke="#000" stroke-width="0.2">1392</text>
<text x="765.5" y="154" font-size="10" fill="#000" textLength="22.5" lengthAdjust="spacing" stroke="#000" stroke-width="0.2">1368</text>
<text x="765.5" y="173" font-size="10" fill="#000" textLength="22.5" lengthAdjust="spacing" stroke="#000" stroke-width="0.2">1344</text>
<text x="765.5" y="192" font-size="10" fill="#000" textLength="22.5" lengthAdjust="spacing" stroke="#000" stroke-width="0.2">1320</text>
<text x="765.5" y="211" font-size="10" fill="#000" textLength="22.5" lengthAdjust="spacing" stroke="#000" stroke-width="0.2">1296</text>
<text x="765.5" y="230" font-size="10" fill="#000" textLength="22.5" lengthAdjust="spacing" stroke="#000" stroke-width="0.2">1272</text>
<text x="765.5" y="249" font-size="10" fill="#000" textLength="22.5" lengthAdjust="spacing" stroke="#000" stroke-width="0.2">1248</text>
<text x="765.5" y="268" font-size="10" fill="#000" textLength="22.5" lengthAdjust="spacing" stroke="#000" stroke-width="0.2">1224</text>
<text x="765.5" y="287" font-size="10" fill="#000" textLength="22.5" lengthAdjust="spacing" stroke="#000" stroke-width="0.2">1200</text>
<text x="765.5" y="306" font-size="10" fill="#000" textLength="22.5" lengthAdjust="spacing" stroke="#000" stroke-width="0.2">1176</text>
<text x="765.5" y="325" font-size="10" fill="#000" textLength="22.5" lengthAdjust="spacing" stroke="#000" stroke-width="0.2">1152</text>
<text x="765.5" y="344" font-size="10" fill="#000" textLength="22.5" lengthAdjust="spacing" stroke="#000" stroke-width="0.2">1128</text>
<text x="765.5" y="363" font-size="10" fill="#000" textLength="22.5" lengthAdjust="spacing" stroke="#000" stroke-width="0.2">1104</text>
<text x="765.5" y="382" font-size="10" fill="#000" textLength="22.5" lengthAdjust="spacing" stroke="#000" stroke-width="0.2">1080</text>
<text x="765.5" y="401" font-size="10" fill="#000" textLength="22.5" lengthAdjust="spacing" stroke="#000" stroke-width="0.2">1056</text>
<text x="765.5" y="420" font-size="10" fill="#000" textLength="22.5" lengthAdjust="spacing" stroke="#000" stroke-width="0.2">1032</text>
<text x="765.5" y="439" font-size="10" fill="#000" textLength="22.5" lengthAdjust="spacing" stroke="#000" stroke-width="0.2">1008</text>
<text x="765.5" y="458" font-size="10" fill="#000" textLength="17.5" lengthAdjust="spacing" stroke="#000" stroke-width="0.2">984</text>
<text x="765.5" y="477" font-size="10" fill="#000" textLength="17.5" lengthAdjust="spacing" stroke="#000" stroke-width="0.2">960</text>
<text x="32.6" y="540" font-size="10" fill="#000" text-anchor="end" textLength="29.8" lengthAdjust="spacing" stroke="#000" stroke-width="0.2">0.49M</text>
<text x="32.6" y="521" font-size="10" fill="#000" text-anchor="end" textLength="29.8" lengthAdjust="spacing" stroke="#000" stroke-width="0.2">0.98M</text>
<text x="32.6" y="502" font-size="10" fill="#000" text-anchor="end" textLength="29.8" lengthAdjust="spacing" stroke="#000" stroke-width="0.2">1.46M</text>
<text x="32.6" y="483" font-size="10" fill="#000" text-anchor="end" textLength="29.8" lengthAdjust="spacing" stroke="#000" stroke-width="0.2">1.95M</text>
<text x="32.6" y="464" font-size="10" fill="#000" text-anchor="end" textLength="29.8" lengthAdjust="spacing" stroke="#000" stroke-width="0.2">2.44M</text>
<text x="32.6" y="445" font-size="10" fill="#000" text-anchor="end" textLength="29.8" lengthAdjust="spacing" stroke="#000" stroke-width="0.2">2.93M</text>
<text x="32.6" y="426" font-size="10" fill="#000" text-anchor="end" textLength="29.8" lengthAdjust="spacing" stroke="#000" stroke-width="0.2">3.42M</text>
<text x="32.6" y="407" font-size="10" fill="#000" text-anchor="end" textLength="29.8" lengthAdjust="spacing" stroke="#000" stroke-width="0.2">3.90M</text>
<text x="32.6" y="388" font-size="10" fill="#000" text-anchor="end" textLength="29.8" lengthAdjust="spacing" stroke="#000" stroke-width="0.2">4.39M</text>
<text x="32.6" y="369" font-size="10" fill="#000" text-anchor="end" textLength="29.8" lengthAdjust="spacing" stroke="#000" stroke-width="0.2">4.88M</text>
<text x="32.6" y="350" font-size="10" fill="#000" text-anchor="end" textLength="29.8" lengthAdjust="spacing" stroke="#000" stroke-width="0.2">5.37M</text>
<text x="32.6" y="331" font-size="10" fill="#000" text-anchor="end" textLength="29.8" lengthAdjust="spacing" stroke="#000" stroke-width="0.2">5.86M</text>
<text x="32.6" y="312" font-size="10" fill="#000" text-anchor="end" textLength="29.8" lengthAdjust="spacing" stroke="#000" stroke-width="0.2">6.34M</text>
<text x="73.4" y="568" font-size="10" fill="#000" stroke="#000" stroke-width="0.2">9</text>
<text x="106.4" y="568" font-size="10" fill="#000" stroke="#000" stroke-width="0.2">16</text>
<text x="139.4" y="568" font-size="10" fill="#000" stroke="#000" stroke-width="0.2">23</text>
<text x="165.4" y="568" font-size="10" fill="#000" stroke="#000" stroke-width="0.2">30</text>
<text x="198.4" y="568" font-size="10" fill="#000" stroke="#000" stroke-width="0.2">6</text>
<text x="230.4" y="568" font-size="10" fill="#000" stroke="#000" stroke-width="0.2">13</text>
<text x="263.4" y="568" font-size="10" fill="#000" stroke="#000" stroke-width="0.2">20</text>
<text x="296.4" y="568" font-size="10" fill="#000" stroke="#000" stroke-width="0.2">27</text>
<text x="329.4" y="568" font-size="10" fill="#000" stroke="#000" stroke-width="0.2">3</text>
<text x="362.4" y="568" font-size="10" fill="#000" stroke="#000" stroke-width="0.2">10</text>
<text x="394.4" y="568" font-size="10" fill="#000" stroke="#000" stroke-width="0.2">17</text>
<text x="427.4" y="568" font-size="10" fill="#000" stroke="#000" stroke-width="0.2">24</text>
<text x="453.4" y="568" font-size="10" fill="#000" stroke="#000" stroke-width="0.2">3</text>
<text x="486.4" y="568" font-size="10" fill="#000" stroke="#000" stroke-width="0.2">10</text>
<text x="519.4" y="568" font-size="10" fill="#000" stroke="#000" stroke-width="0.2">18</text>
<text x="545.4" y="568" font-size="10" fill="#000" stroke="#000" stroke-width="0.2">24</text>
<text x="578.4" y="568" font-size="10" fill="#000" stroke="#000" stroke-width="0.2">31</text>
<text x="611.4" y="568" font-size="10" fill="#000" stroke="#000" stroke-width="0.2">7</text>
<text x="637.4" y="568" font-size="10" fill="#000" stroke="#000" stroke-width="0.2">15</text>
<text x="657.4" y="568" font-size="10" fill="#000" stroke="#000" stroke-width="0.2">21</text>
<text x="683.4" y="568" font-size="10" fill="#000" stroke="#000" stroke-width="0.2">28</text>
<text x="709.4" y="568" font-size="10" fill="#000" stroke="#000" stroke-width="0.2">5</text>
<text x="742.4" y="568" font-size="10" fill="#000" stroke="#000" stroke-width="0.2">12</text>
<text x="178" y="581" font-size="10" fill="#000" textLength="24.5" lengthAdjust="spacing" stroke="#000" stroke-width="0.2">2014</text>
<text x="329" y="581" font-size="10" fill="#000" stroke="#000" stroke-width="0.2">Feb</text>
<text x="453" y="581" font-size="10" fill="#000" stroke="#000" stroke-width="0.2">Mar</text>
<text x="585" y="581" font-size="10" fill="#000" stroke="#000" stroke-width="0.2">Apr</text>
<text x="703" y="581" font-size="10" fill="#000" stroke="#000" stroke-width="0.2">May</text>
<text y="597" font-size="10" fill="#000" stroke="#000" stroke-width="0.2" xml:space="preserve"><tspan x="2.2" textLength="43.5" lengthAdjust="spacing">Copyright</tspan> <tspan x="50" textLength="7.4" lengthAdjust="spacing">©</tspan> <tspan x="60.3" textLength="22.5" lengthAdjust="spacing">2014</tspan> <tspan x="87.75" textLength="55.1" lengthAdjust="spacing">ChartNexus</tspan></text>
<text y="597" font-size="10" fill="#000" stroke="#000" stroke-width="0.2" xml:space="preserve"><tspan x="629.5" textLength="42.2" lengthAdjust="spacing">Powered</tspan> <tspan x="675.8" textLength="10.6" lengthAdjust="spacing">by</tspan> <tspan x="690.2" textLength="107.5" lengthAdjust="spacing">www.chartnexus.com</tspan></text>
</svg>
</body></html>
